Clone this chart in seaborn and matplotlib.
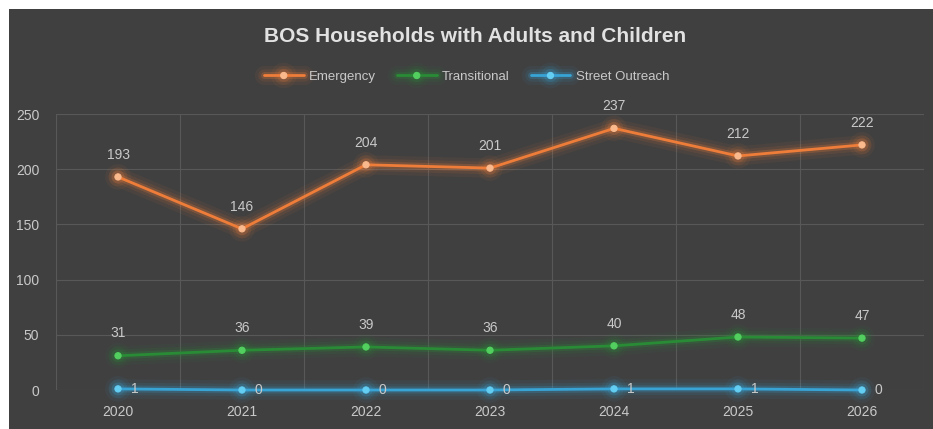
import pandas as pd
import matplotlib
matplotlib.use("Agg")
import matplotlib.pyplot as plt
import matplotlib.patheffects as pe
from matplotlib.patches import Rectangle
import seaborn as sns

years = [2020, 2021, 2022, 2023, 2024, 2025, 2026]
emergency = [193, 146, 204, 201, 237, 212, 222]
transitional = [31, 36, 39, 36, 40, 48, 47]
street_outreach = [1, 0, 0, 0, 1, 1, 0]

series_names = ["Emergency", "Transitional", "Street Outreach"]
line_colors = ["#ef7d3a", "#2a8b36", "#38a4d6"]
marker_colors = ["#f9b98c", "#52cf5f", "#63cdf2"]

bg = "#404040"
text_col = "#c9c9c9"

df = pd.DataFrame({"year": years, "Emergency": emergency,
                   "Transitional": transitional, "Street Outreach": street_outreach})
df["pos"] = range(len(years))

sns.set_style("dark")
plt.rcParams["font.family"] = ["Liberation Sans", "DejaVu Sans"]

fig = plt.figure(figsize=(9.33, 4.29), dpi=100, facecolor="white")
# dark panel with a thin white border on the top/left
fig.patches.append(Rectangle((9 / 933, 0), 924 / 933, 420 / 429, transform=fig.transFigure,
                             facecolor=bg, edgecolor="none", zorder=-5))
ax = fig.add_axes([56 / 933, 39 / 429, 868 / 933, 276 / 429])
ax.set_zorder(2)
ax.set_facecolor(bg)

handles = []
for name, lc, mc in zip(series_names, line_colors, marker_colors):
    glow = [pe.Stroke(linewidth=14, foreground=lc, alpha=0.06),
            pe.Stroke(linewidth=9, foreground=lc, alpha=0.10),
            pe.Stroke(linewidth=5, foreground=lc, alpha=0.22),
            pe.Normal()]
    sns.lineplot(data=df, x="pos", y=name, ax=ax, color=lc, linewidth=2,
                 marker="o", markersize=4.5, markerfacecolor=mc, markeredgecolor=mc,
                 path_effects=glow, zorder=3, clip_on=False)
    handles.append(ax.lines[-1])

# data labels
for i, v in enumerate(emergency):
    ax.annotate(str(v), (i, v), xytext=(0, 11), textcoords="offset points",
                ha="center", va="bottom", color=text_col, fontsize=10)
for i, v in enumerate(transitional):
    ax.annotate(str(v), (i, v), xytext=(0, 11), textcoords="offset points",
                ha="center", va="bottom", color=text_col, fontsize=10)
for i, v in enumerate(street_outreach):
    ax.annotate(str(v), (i, v), xytext=(12, 0), textcoords="offset points",
                ha="center", va="center", color=text_col, fontsize=10)

ax.set_xlim(-0.5, len(years) - 0.5)
ax.set_ylim(0, 250)
ax.set_yticks(range(0, 251, 50))
ax.set_xticks(range(len(years)))
ax.set_xticklabels([str(y) for y in years])
ax.set_xticks([i - 0.5 for i in range(len(years) + 1)], minor=True)
ax.grid(False)
ax.grid(axis="y", which="major", color="#585858", linewidth=0.8)
ax.grid(axis="x", which="minor", color="#585858", linewidth=0.8)
ax.tick_params(axis="both", which="both", length=0, colors=text_col, labelsize=10)
ax.tick_params(axis="x", pad=11)
ax.tick_params(axis="y", pad=12)
ax.set_xlabel("")
ax.set_ylabel("")
for s in ax.spines.values():
    s.set_visible(False)

leg = ax.legend(handles, series_names, loc="center", bbox_to_anchor=(0.5, 1 - 77 / 429),
                bbox_transform=fig.transFigure, ncol=3, frameon=False, fontsize=9.5,
                handlelength=3, columnspacing=1.6, handletextpad=0.4)
for t in leg.get_texts():
    t.set_color(text_col)

fig.text(0.509, 1 - 37 / 429, "BOS Households with Adults and Children", ha="center", va="center",
         color="#e2e2e2", fontsize=15, fontweight="bold")

fig.savefig("out.png", dpi=100, facecolor=fig.get_facecolor())
